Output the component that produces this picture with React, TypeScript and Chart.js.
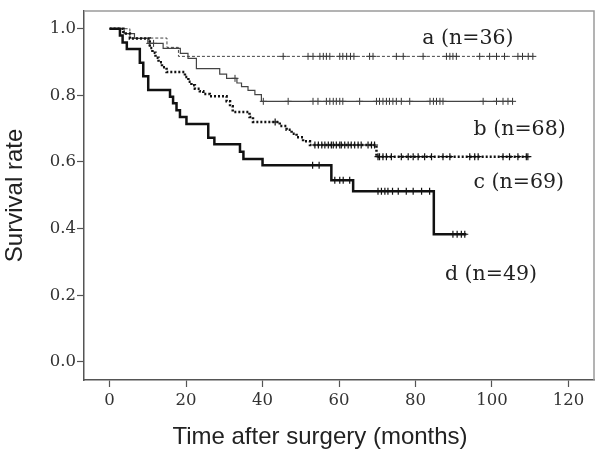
import React, { useEffect, useRef } from "react";
import { Chart, registerables } from "chart.js";

Chart.register(...registerables);

// ---- axis ticks ----
const xTicks = [0, 20, 40, 60, 80, 100, 120];
const yTicks = [0, 0.2, 0.4, 0.6, 0.8, 1.0];

// ---- group a (n=36) ----
const aTimes = [0, 5.3, 15, 18, 111];
const aSurv = [1, 0.972, 0.944, 0.917, 0.917];
const aCensor = [45.4, 51.9, 53.2, 55, 55.9, 56.7, 57.6, 60.2, 61, 62, 63, 63.9, 68, 68.9, 75, 76.8, 82, 88.1, 89, 89.8, 90.7, 96.8, 99.4, 101.2, 103.3, 106.8, 108, 109.5, 110.7];

// ---- group b (n=68) ----
const bTimes = [0, 3.8, 6.5, 10, 14, 18.5, 20.5, 22.7, 28.8, 30.6, 33.3, 34.5, 36.2, 38, 39.7, 105.4];
const bSurv = [1, 0.985, 0.971, 0.956, 0.941, 0.926, 0.911, 0.88, 0.864, 0.851, 0.837, 0.826, 0.815, 0.802, 0.782, 0.782];
const bCensor = [10.5, 11.5, 32.8, 40.2, 46.7, 53.2, 54.5, 56.7, 57.6, 58.5, 59.3, 60.2, 61, 65.4, 69.8, 70.6, 71.5, 72.4, 73.2, 74.1, 75, 76.3, 78.5, 83.8, 84.7, 85.5, 86.4, 87.2, 97.7, 101.2, 102.9, 104.2, 105.4];

// ---- group c (n=69) ----
const cTimes = [0, 3.6, 5.3, 10.5, 11.2, 12, 12.8, 13.7, 14.9, 19.7, 20.6, 21.4, 22.3, 23.6, 24.5, 26.2, 30.6, 31.5, 32.2, 36.6, 37.5, 44.5, 46.3, 47.6, 48.9, 50.6, 52.4, 69.8, 109.9];
const cSurv = [1, 0.986, 0.971, 0.942, 0.928, 0.913, 0.899, 0.884, 0.87, 0.855, 0.841, 0.83, 0.82, 0.812, 0.804, 0.797, 0.782, 0.767, 0.75, 0.735, 0.72, 0.708, 0.697, 0.685, 0.674, 0.662, 0.651, 0.616, 0.616];
const cCensor = [43.3, 53.7, 54.6, 55.5, 56.3, 57.2, 58, 58.5, 59.3, 60.2, 60.6, 61.5, 62.4, 63.2, 64.1, 65, 65.8, 67.6, 68.5, 69.3, 70.2, 70.6, 71.5, 72.4, 73.7, 76.3, 78.1, 79.4, 80.7, 82.4, 84.2, 87.2, 89, 94.2, 95.5, 96.4, 102.9, 104.6, 106.8, 109, 109.4];

// ---- group d (n=49) ----
const dTimes = [0, 2.7, 3.4, 4.5, 7.9, 8.8, 10.1, 15.8, 16.6, 17.5, 18.4, 20.1, 25.8, 27.4, 34.1, 35.0, 40.0, 58.0, 63.7, 84.8, 93.3];
const dSurv = [1, 0.98, 0.959, 0.939, 0.898, 0.857, 0.816, 0.796, 0.776, 0.755, 0.735, 0.714, 0.673, 0.653, 0.631, 0.609, 0.59, 0.545, 0.512, 0.383, 0.383];
const dCensor = [53.1, 54.8, 58.9, 60.2, 61.1, 62.8, 70.2, 71.1, 72, 72.8, 74, 75.5, 77.6, 79.4, 81.6, 83.7, 89.8, 90.9, 92, 92.9];

// ---- series labels ----
const seriesLabels = ["a (n=36)", "b (n=68)", "c (n=69)", "d (n=49)"];
// label anchor positions in data coordinates (layout, not data)
const labelAnchors: [number, number][] = [
  [81.8, 0.97],
  [95.2, 0.698],
  [95.2, 0.537],
  [87.7, 0.263],
];

const xTitle = "Time after surgery (months)";
const yTitle = "Survival rate";

function stepPoints(times: number[], surv: number[]) {
  return times.map((t, i) => ({ x: t, y: surv[i] }));
}
function censorPoints(times: number[], surv: number[], cens: number[]) {
  return cens.map((c) => {
    let v = surv[0];
    for (let i = 0; i < times.length; i++) if (times[i] <= c) v = surv[i];
    return { x: c, y: v };
  });
}

const framePlugin = {
  id: "frame",
  afterDraw(chart: any) {
    const { ctx, chartArea } = chart;
    ctx.save();
    ctx.strokeStyle = "#9a9a9a";
    ctx.lineWidth = 1.5;
    ctx.beginPath();
    ctx.moveTo(chartArea.left, chartArea.top);
    ctx.lineTo(chartArea.right, chartArea.top);
    ctx.lineTo(chartArea.right, chartArea.bottom);
    ctx.stroke();
    ctx.restore();
  },
};

const labelPlugin = {
  id: "seriesLabels",
  afterDraw(chart: any) {
    const { ctx, scales } = chart;
    ctx.save();
    ctx.fillStyle = "#222";
    ctx.font = "20.5px 'DejaVu Serif'";
    ctx.textAlign = "left";
    ctx.textBaseline = "middle";
    seriesLabels.forEach((s, i) => {
      const [t, v] = labelAnchors[i];
      ctx.fillText(s, scales.x.getPixelForValue(t), scales.y.getPixelForValue(v));
    });
    // x-axis title (offset left of the plot centre, as in the reference)
    ctx.font = "24px 'Liberation Sans'";
    ctx.textAlign = "center";
    ctx.fillText(xTitle, 320, 437);
    ctx.restore();
  },
};

function lineDs(times: number[], surv: number[], color: string, width: number, dash: number[]) {
  return {
    data: stepPoints(times, surv),
    showLine: true,
    stepped: "before",
    borderColor: color,
    borderWidth: width,
    borderDash: dash,
    pointRadius: 0,
    fill: false,
  };
}
function censorDs(times: number[], surv: number[], cens: number[], color: string, width: number) {
  return {
    data: censorPoints(times, surv, cens),
    showLine: false,
    pointStyle: "cross",
    pointRadius: 3.5,
    pointBorderWidth: width,
    pointBorderColor: color,
    pointBackgroundColor: color,
  };
}

export default function App() {
  const ref = useRef<HTMLCanvasElement | null>(null);
  useEffect(() => {
    if (!ref.current) return;
    const chart = new Chart(ref.current, {
      type: "scatter",
      data: {
        datasets: [
          lineDs(dTimes, dSurv, "#111", 2.5, []),
          censorDs(dTimes, dSurv, dCensor, "#111", 1.2),
          lineDs(cTimes, cSurv, "#111", 2.5, [2, 2]),
          censorDs(cTimes, cSurv, cCensor, "#111", 1.2),
          lineDs(bTimes, bSurv, "#444", 1.2, []),
          censorDs(bTimes, bSurv, bCensor, "#333", 1),
          lineDs(aTimes, aSurv, "#444", 1, [3, 2]),
          censorDs(aTimes, aSurv, aCensor, "#333", 1),
        ] as any,
      },
      options: {
        responsive: false,
        animation: false,
        layout: { padding: { top: 7, right: 8, left: 0, bottom: 0 } },
        plugins: { legend: { display: false }, tooltip: { enabled: false } },
        scales: {
          x: {
            type: "linear",
            min: -6.7,
            max: 126.7,
            afterBuildTicks: (s: any) => {
              s.ticks = xTicks.map((v) => ({ value: v }));
            },
            afterFit: (s: any) => {
              s.height = 78;
            },
            grid: { drawOnChartArea: false, tickLength: 7, tickColor: "#555", tickWidth: 1.2 },
            border: { color: "#555", width: 1.5 },
            ticks: {
              callback: (v: any) => String(v),
              font: { family: "'DejaVu Serif'", size: 16.5 },
              color: "#333",
              padding: 4,
              maxRotation: 0,
              autoSkip: false,
            },
            title: { display: false },
          },
          y: {
            type: "linear",
            min: -0.0545,
            max: 1.0535,
            afterBuildTicks: (s: any) => {
              s.ticks = yTicks.map((v) => ({ value: v }));
            },
            afterFit: (s: any) => {
              s.width = 84;
            },
            grid: { drawOnChartArea: false, tickLength: 7, tickColor: "#555", tickWidth: 1.2 },
            border: { color: "#555", width: 1.5 },
            ticks: {
              callback: (v: any) => Number(v).toFixed(1),
              font: { family: "'DejaVu Serif'", size: 16.5 },
              color: "#333",
              padding: 1,
              autoSkip: false,
            },
            title: {
              display: true,
              text: yTitle,
              font: { family: "'Liberation Sans'", size: 24 },
              color: "#222",
              padding: { top: 1, bottom: 0 },
            },
          },
        },
      } as any,
      plugins: [framePlugin, labelPlugin],
    });
    return () => chart.destroy();
  }, []);
  return (
    <canvas
      ref={ref}
      width={602}
      height={458}
      style={{ position: "absolute", left: 0, top: 0, width: 602, height: 458 }}
    />
  );
}
